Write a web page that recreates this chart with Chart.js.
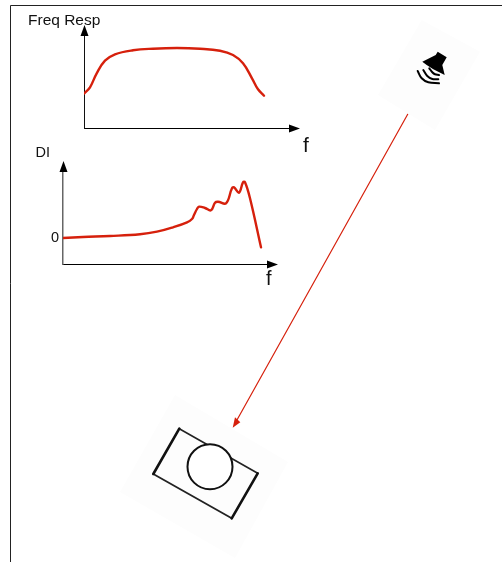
<!DOCTYPE html>
<html>
<head>
<meta charset="utf-8">
<script src="https://cdn.jsdelivr.net/npm/chart.js@4"></script>
<style>
  html, body { margin: 0; padding: 0; background: #fff; }
  canvas { position: absolute; left: 0; top: 0; }
</style>
</head>
<body>
<canvas id="sceneChart" width="502" height="562"></canvas>
<canvas id="freqChart" width="502" height="562"></canvas>
<canvas id="diChart" width="502" height="562"></canvas>
<script>
// frequency response curve
const freqX = [0, 6, 12.7, 21, 31, 49, 69, 93, 116, 136, 149, 159, 168, 174, 180];
const freqY = [34.3, 40.7, 54.7, 67.3, 73.7, 77.7, 79.3, 80, 79.3, 77.3, 73, 64.7, 49.7, 38.7, 32.3];

// directivity index curve
const diX = [0, 20, 47, 77, 94, 110, 124, 129, 131, 134, 136, 142, 148, 152, 155, 163, 169, 171, 176, 180, 182, 187, 198];
const diY = [26, 27, 28, 29.7, 32.3, 36.7, 41.7, 45, 49, 55, 57.3, 56, 53.7, 61.3, 62.3, 60.7, 75.7, 76.7, 71.3, 81.7, 81.7, 65.7, 16.7];
const diZero = 26;

// scene: page frame, source to camera line, speaker and camera
const frameX = [10.5, 10.5, 502];
const frameY = [562, 5.5, 5.5];
const rayX = [407.7, 235];
const rayY = [114.3, 423.5];
const rayHeadX = [232.7, 235, 240.3, 232.7];
const rayHeadY = [427.7, 417.3, 422.3, 427.7];
const speakerPatchX = [421.7, 480, 435, 378, 421.7];
const speakerPatchY = [20, 51.7, 130, 95, 20];
const speakerX = [422.3, 435.7, 437.7, 446.7, 442.3, 444.7, 433.3, 426.7, 422.3];
const speakerY = [61.7, 55, 51.7, 57.3, 65, 75, 69.3, 65, 61.7];
const waveOuterX = [417.7, 421.7, 428.3, 439];
const waveOuterY = [71, 78.3, 82.3, 83.3];
const waveMiddleX = [423.3, 427.3, 432.3, 438.3];
const waveMiddleY = [70, 76, 79, 79.3];
const waveInnerX = [429.3, 432.3, 435, 439];
const waveInnerY = [68.3, 72.3, 74.3, 75];
const cameraPatchX = [175, 288, 235, 120, 175];
const cameraPatchY = [395, 462, 558, 492, 395];
const cameraThinX = [153.3, 231.7];
const cameraThinY = [474, 518.3];
const cameraTopX = [179.3, 257.7];
const cameraTopY = [428.7, 473.3];
const cameraLeftX = [179.3, 153.3];
const cameraLeftY = [428.7, 474];
const cameraRightX = [257.7, 231.7];
const cameraRightY = [473.3, 518.3];
const lensX = [210];
const lensY = [466.7];

const pts = (xs, ys) => xs.map((x, i) => ({ x: x, y: ys[i] }));
const RED = '#d6200c';
const FONT = 'Liberation Sans, Arial, sans-serif';

function stroke(xs, ys, color, width, tension) {
    return {
        data: pts(xs, ys),
        showLine: true,
        borderColor: color,
        borderWidth: width,
        tension: tension || 0,
        pointRadius: 0,
        borderCapStyle: 'round',
        borderJoinStyle: 'round'
    };
}

function shape(xs, ys, color) {
    return {
        data: pts(xs, ys),
        showLine: true,
        fill: 'shape',
        borderWidth: 0,
        backgroundColor: color,
        pointRadius: 0
    };
}

// arrow heads at the open ends of the two axes
const axisArrows = {
    id: 'axisArrows',
    afterDraw(chart) {
        const { left, right, top, bottom } = chart.chartArea;
        const ctx = chart.ctx;
        ctx.save();
        ctx.fillStyle = '#000';
        ctx.beginPath();
        ctx.moveTo(left + 0.5, top - 10);
        ctx.lineTo(left - 3.5, top + 1);
        ctx.lineTo(left + 4.5, top + 1);
        ctx.closePath();
        ctx.moveTo(right + 10, bottom + 0.5);
        ctx.lineTo(right - 1, bottom - 3.5);
        ctx.lineTo(right - 1, bottom + 4.5);
        ctx.closePath();
        ctx.fill();
        ctx.restore();
    }
};

// free labels placed through the scene scales
const sceneLabels = [
    { text: 'Freq Resp', x: 28, y: 25, size: 15.5 },
    { text: 'f', x: 303, y: 152, size: 21 },
    { text: 'DI', x: 35.5, y: 157, size: 14.5 },
    { text: 'f', x: 266, y: 285, size: 20 }
];

const labelPlugin = {
    id: 'labelPlugin',
    afterDraw(chart) {
        const ctx = chart.ctx;
        ctx.save();
        ctx.fillStyle = '#111';
        ctx.textBaseline = 'alphabetic';
        sceneLabels.forEach(l => {
            ctx.font = l.size + 'px ' + FONT;
            ctx.fillText(l.text, chart.scales.x.getPixelForValue(l.x), chart.scales.y.getPixelForValue(l.y));
        });
        ctx.restore();
    }
};

function plotOptions(padding, xMax, yMax, yBorder, yBorderWidth, zero) {
    const hasZero = zero !== undefined;
    return {
        responsive: false,
        animation: false,
        layout: { padding: padding, autoPadding: false },
        plugins: { legend: { display: false }, tooltip: { enabled: false } },
        scales: {
            x: {
                type: 'linear', min: 0, max: xMax,
                grid: { display: false, drawTicks: false },
                border: { color: '#000', width: 1 },
                ticks: { display: false },
                afterFit: s => { s.height = 0; }
            },
            y: {
                type: 'linear', min: 0, max: yMax,
                grid: { display: false, drawTicks: false },
                border: { color: yBorder, width: yBorderWidth },
                ticks: {
                    display: hasZero,
                    padding: 4,
                    color: '#111',
                    font: { family: FONT, size: 14.5 },
                    callback: () => '0'
                },
                afterBuildTicks: s => { s.ticks = hasZero ? [{ value: zero }] : []; },
                afterFit: s => { s.width = hasZero ? 24 : 0; }
            }
        }
    };
}

new Chart(document.getElementById('sceneChart'), {
    type: 'scatter',
    data: {
        datasets: [
            Object.assign(stroke(lensX, lensY, '#111', 2), { pointRadius: 22.5, pointBackgroundColor: '#fff', pointBorderColor: '#111', pointBorderWidth: 2 }),
            stroke(cameraLeftX, cameraLeftY, '#111', 2.6),
            stroke(cameraRightX, cameraRightY, '#111', 2.6),
            stroke(cameraTopX, cameraTopY, '#222', 1.6),
            stroke(cameraThinX, cameraThinY, '#222', 1.8),
            shape(rayHeadX, rayHeadY, RED),
            stroke(rayX, rayY, RED, 1.2),
            stroke(waveOuterX, waveOuterY, '#000', 2, 0.4),
            stroke(waveMiddleX, waveMiddleY, '#000', 2, 0.4),
            stroke(waveInnerX, waveInnerY, '#000', 2, 0.4),
            shape(speakerX, speakerY, '#000'),
            stroke(frameX, frameY, '#222', 1),
            shape(speakerPatchX, speakerPatchY, '#fdfdfd'),
            shape(cameraPatchX, cameraPatchY, '#fdfdfd')
        ]
    },
    options: {
        responsive: false,
        animation: false,
        layout: { padding: 0, autoPadding: false },
        plugins: { legend: { display: false }, tooltip: { enabled: false } },
        scales: {
            x: { type: 'linear', min: 0, max: 502, display: false },
            y: { type: 'linear', min: 0, max: 562, reverse: true, display: false }
        }
    },
    plugins: [labelPlugin]
});

new Chart(document.getElementById('freqChart'), {
    type: 'scatter',
    data: { datasets: [stroke(freqX, freqY, RED, 2.4, 0.4)] },
    options: plotOptions({ left: 84, right: 212, top: 35, bottom: 434 }, 206, 93, '#111', 1),
    plugins: [axisArrows]
});

new Chart(document.getElementById('diChart'), {
    type: 'scatter',
    data: { datasets: [stroke(diX, diY, RED, 2.4, 0.4)] },
    options: plotOptions({ left: 39, right: 234, top: 171, bottom: 298 }, 205, 93, '#666', 1.5, diZero),
    plugins: [axisArrows]
});
</script>
</body>
</html>
